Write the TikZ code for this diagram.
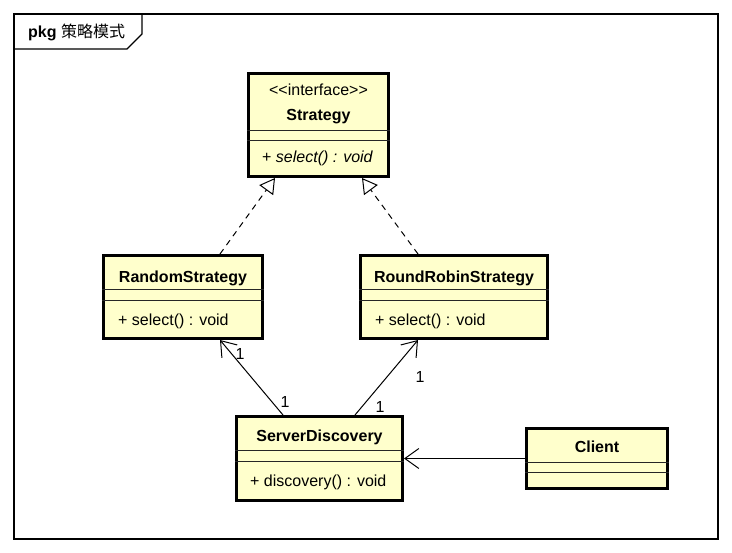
\documentclass[tikz,border=0pt]{standalone}
\usepackage{fontspec}
\setmainfont{Liberation Sans}
\newfontfamily\cjk{Noto Sans CJK SC}
\usetikzlibrary{arrows.meta}
\definecolor{classfill}{RGB}{255,255,204}

\begin{document}
\begin{tikzpicture}[x=1pt,y=-1pt,
  cls/.style={draw,line width=3pt,fill=classfill,anchor=north west,inner sep=0pt},
  cmp/.style={line width=0.9pt,black!85},
  txt/.style={font=\fontsize{16}{18}\selectfont,inner sep=0pt,anchor=base},
  realize/.style={line width=1pt,dash pattern=on 6pt off 5pt,-{Triangle[open,length=15pt,width=17pt]}},
  assoc/.style={line width=1pt,-{Straight Barb[length=14pt,width=20pt]}}]
  \useasboundingbox (0,0) rectangle (732,553);
  \draw[line width=1.2pt] (14,14) rectangle (718,539);
  \draw[line width=1.2pt] (14,49) -- (127,49) -- (142,34) -- (142,14);
  \node[txt,anchor=base west] (pkg) at (28,38) {\textbf{pkg} \cjk 策略模式};

  \node[cls,minimum width=140pt,minimum height=103pt] (strategy) at (247,72) {};
  \node[cls,minimum width=159pt,minimum height=83pt] (random) at (102,254) {};
  \node[cls,minimum width=187pt,minimum height=83pt] (robin) at (359,254) {};
  \node[cls,minimum width=166pt,minimum height=84pt] (server) at (235,415) {};
  \node[cls,minimum width=141pt,minimum height=60pt] (client) at (525,427) {};
  \foreach \nm/\a/\b in {strategy/58/68,random/35/46,robin/35/46,server/35/46,client/35/45} {
    \draw[cmp] ([yshift=-\a pt]\nm.north west) -- ([yshift=-\a pt]\nm.north east);
    \draw[cmp] ([yshift=-\b pt]\nm.north west) -- ([yshift=-\b pt]\nm.north east);
  }

  \node[txt] (stereo) at (318.5,96) {<\kern0pt<interface>\kern0pt>};
  \node[txt] (strategyname) at (318.5,121) {\textbf{Strategy}};
  \node[txt,anchor=base west] (strategyop) at (262,163) {+ \textit{select() : void}};
  \node[txt] (randomname) at (183,283) {\textbf{RandomStrategy}};
  \node[txt,anchor=base west] (randomop) at (118,326) {+ select() : void};
  \node[txt] (robinname) at (454,283) {\textbf{RoundRobinStrategy}};
  \node[txt,anchor=base west] (robinop) at (375,326) {+ select() : void};
  \node[txt] (servername) at (319.5,442) {\textbf{ServerDiscovery}};
  \node[txt,anchor=base west] (serverop) at (250,487) {+ discovery() : void};
  \node[txt] (clientname) at (597,453) {\textbf{Client}};

  \draw[realize] ([xshift=37pt]random.north) -- ([xshift=-43.5pt]strategy.south);
  \draw[realize] ([xshift=-36pt]robin.north) -- ([xshift=43.5pt]strategy.south);
  \draw[assoc] ([xshift=-36.5pt]server.north) -- ([xshift=37pt]random.south);
  \draw[assoc] ([xshift=35.5pt]server.north) -- ([xshift=-36pt]robin.south);
  \draw[assoc] (client.west) -- (server.east);

  \node[txt] (mrandom) at (240,360) {1};
  \node[txt] (mserverl) at (285,408) {1};
  \node[txt] (mrobin) at (420,383) {1};
  \node[txt] (mserverr) at (380,413) {1};
\end{tikzpicture}
\end{document}
